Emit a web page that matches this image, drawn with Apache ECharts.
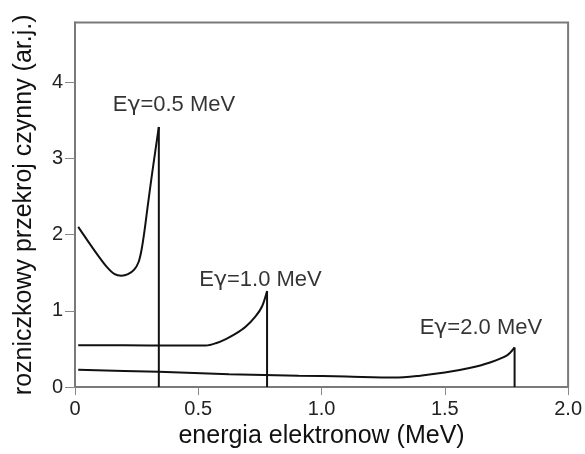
<!DOCTYPE html>
<html>
<head>
<meta charset="utf-8">
<script src="https://cdn.jsdelivr.net/npm/echarts@6/dist/echarts.min.js"></script>
<style>
  html, body { margin: 0; padding: 0; background: #fff; }
  #chart { width: 585px; height: 454px; }
</style>
</head>
<body>
<div id="chart"></div>
<script>
// curves: [energia, przekroj]
const curve05 = [
    [0.013, 2.10], [0.047, 1.94], [0.088, 1.75], [0.128, 1.58], [0.161, 1.48],
    [0.188, 1.46], [0.215, 1.48], [0.240, 1.54], [0.258, 1.64], [0.270, 1.80],
    [0.282, 2.05], [0.296, 2.40], [0.311, 2.76], [0.326, 3.10], [0.340, 3.41]
];
const curve10 = [
    [0.013, 0.55], [0.2, 0.548], [0.4, 0.545], [0.531, 0.545], [0.571, 0.575],
    [0.612, 0.63], [0.652, 0.70], [0.692, 0.79], [0.733, 0.93], [0.759, 1.06],
    [0.779, 1.26]
];
const curve20 = [
    [0.013, 0.226], [0.34, 0.20], [0.625, 0.17], [0.907, 0.15], [1.1, 0.138],
    [1.297, 0.125], [1.40, 0.15], [1.50, 0.19], [1.60, 0.25], [1.68, 0.32],
    [1.754, 0.42], [1.783, 0.52]
];
const gammas = ['0.5', '1.0', '2.0'];
const labelPos = [[0.153, 3.70], [0.504, 1.40], [1.398, 0.77]];
const xTicks = [0, 0.5, 1.0, 1.5, 2.0];
const yTicks = [0, 1, 2, 3, 4];

const chart = echarts.init(document.getElementById('chart'));
const font = 'Liberation Sans, Arial, sans-serif';

function edge(c) {
    const last = c[c.length - 1];
    return [[last[0], last[1]], [last[0], 0]];
}

const lineStyle = { color: '#111', width: 2 };
const curveSeries = [curve05, curve10, curve20].flatMap(c => [
    {
        type: 'line', data: c, smooth: 0.3, symbol: 'none',
        lineStyle: lineStyle, silent: true
    },
    {
        type: 'line', data: edge(c), symbol: 'none',
        lineStyle: lineStyle, silent: true
    }
]);

chart.setOption({
    animation: false,
    grid: {
        left: 75, right: 14, top: 22.5, bottom: 57.3,
        show: true, borderColor: '#7a7a7a', borderWidth: 2
    },
    xAxis: {
        type: 'value', min: 0, max: 2,
        name: 'energia elektronow (MeV)', nameLocation: 'middle', nameGap: 33,
        nameTextStyle: { fontSize: 25, color: '#111', fontFamily: font },
        axisLine: { lineStyle: { color: '#7a7a7a', width: 2 } },
        axisTick: { show: true, length: 8, customValues: xTicks, lineStyle: { color: '#888', width: 1 } },
        axisLabel: {
            customValues: xTicks, margin: 12, fontSize: 20, color: '#222', fontFamily: font,
            formatter: v => v === 0 ? '0' : v.toFixed(1)
        },
        splitLine: { show: false }
    },
    yAxis: {
        type: 'value', min: 0, max: 4.78,
        name: 'rozniczkowy przekroj czynny (ar.j.)', nameLocation: 'middle', nameGap: 38,
        nameTextStyle: { fontSize: 25, color: '#111', fontFamily: font },
        axisLine: { show: true, lineStyle: { color: '#7a7a7a', width: 2 } },
        axisTick: { show: true, length: 10, customValues: yTicks, lineStyle: { color: '#888', width: 1 } },
        axisLabel: { customValues: yTicks, margin: 12, fontSize: 20, color: '#222', fontFamily: font },
        splitLine: { show: false }
    },
    series: curveSeries.concat([{
        type: 'scatter', symbolSize: 0, silent: true,
        data: labelPos.map((p, i) => ({ value: p, name: gammas[i] })),
        label: {
            show: true, position: 'right', distance: 0,
            formatter: p => 'E{g|\u03b3}=' + p.name + ' MeV',
            fontSize: 22, color: '#000', fontFamily: font,
            rich: { g: { fontSize: 22, color: '#000', fontFamily: 'DejaVu Sans' } }
        }
    }])
});

window.addEventListener('resize', () => chart.resize());
</script>
</body>
</html>
